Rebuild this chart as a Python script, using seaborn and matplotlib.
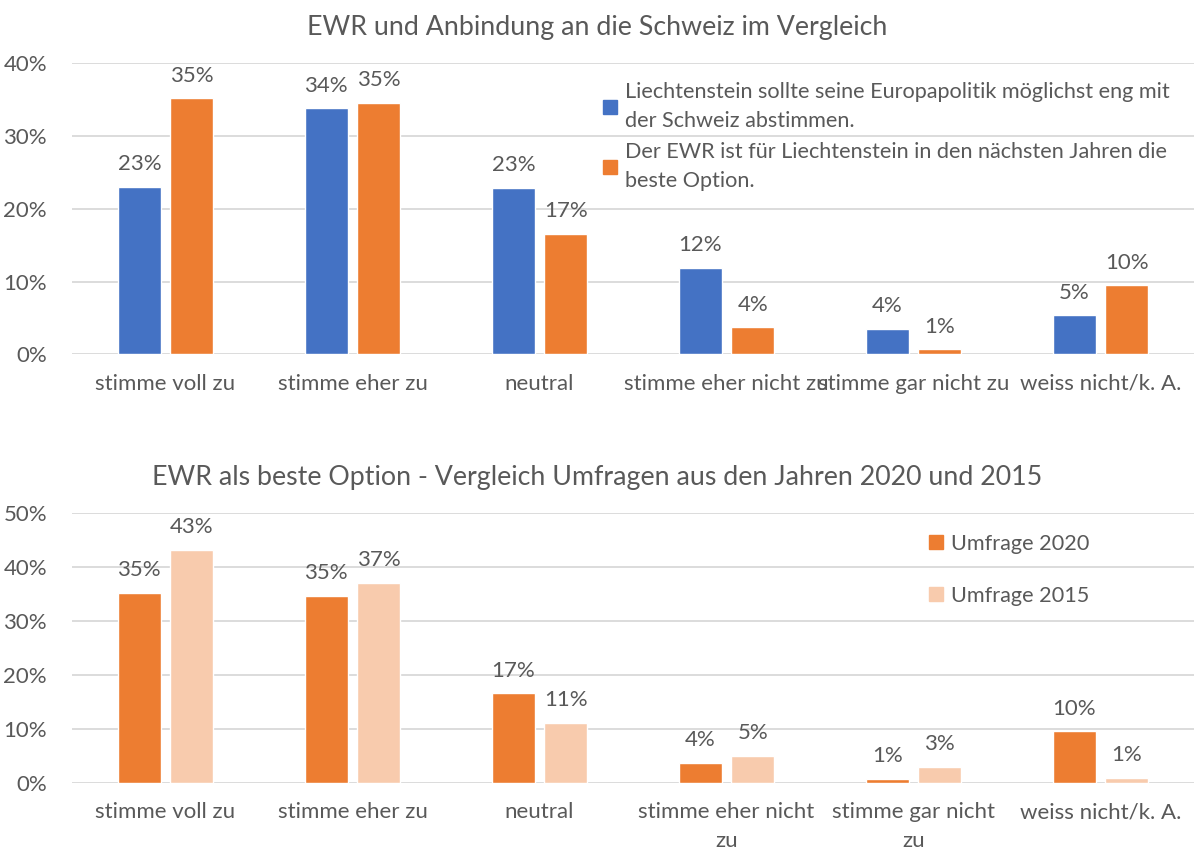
import pandas as pd
import numpy as np
import matplotlib.pyplot as plt
import seaborn as sns
from matplotlib.lines import Line2D

categories_top = ["stimme voll zu", "stimme eher zu", "neutral",
                  "stimme eher nicht zu", "stimme gar nicht zu", "weiss nicht/k. A."]
categories_bottom = ["stimme voll zu", "stimme eher zu", "neutral",
                     "stimme eher nicht\nzu", "stimme gar nicht\nzu", "weiss nicht/k. A."]

schweiz = [23.0, 33.8, 22.9, 11.9, 3.5, 5.4]
ewr_2020 = [35.2, 34.6, 16.6, 3.7, 0.7, 9.5]
ewr_2015 = [43.1, 37.0, 11.1, 5.0, 3.0, 0.9]

label_schweiz = "Liechtenstein sollte seine Europapolitik möglichst eng mit\nder Schweiz abstimmen."
label_ewr = "Der EWR ist für Liechtenstein in den nächsten Jahren die\nbeste Option."
label_2020 = "Umfrage 2020"
label_2015 = "Umfrage 2015"

BLUE = "#4472C4"
ORANGE = "#ED7D31"
PEACH = "#F8CBAD"
GREY = "#595959"

sns.set_theme(style="white")
plt.rcParams["font.family"] = ["Lato", "DejaVu Sans"]
plt.rcParams["text.color"] = GREY

df_top = pd.DataFrame({
    "cat": categories_top * 2,
    "val": schweiz + ewr_2020,
    "series": [label_schweiz] * 6 + [label_ewr] * 6,
})
df_bot = pd.DataFrame({
    "cat": categories_bottom * 2,
    "val": ewr_2020 + ewr_2015,
    "series": [label_2020] * 6 + [label_2015] * 6,
})

fig = plt.figure(figsize=(11.94, 8.51), dpi=100)
ax1 = fig.add_axes([72 / 1194, 1 - 354.3 / 851, (1194 - 72) / 1194, (354.3 - 63.3) / 851])
ax2 = fig.add_axes([72 / 1194, 1 - 782.7 / 851, (1194 - 72) / 1194, (782.7 - 512.7) / 851])


def style(ax, df, pal, ymax, cats, title, title_y):
    sns.barplot(data=df, x="cat", y="val", hue="series", palette=pal, ax=ax,
                width=0.56, gap=0.19, saturation=1, legend=False)
    ax.set_ylim(0, ymax)
    ax.set_xlim(-0.5, 5.5)
    ax.set_yticks(np.arange(0, ymax + 1, 10))
    ax.set_yticklabels([f"{int(t)}%" for t in np.arange(0, ymax + 1, 10)],
                       color=GREY, fontsize=16)
    ax.set_xticks(range(6))
    ax.set_xticklabels(cats, color=GREY, fontsize=16, linespacing=1.55)
    ax.tick_params(axis="x", length=0, pad=14)
    ax.tick_params(axis="y", length=0, pad=18)
    ax.set_xlabel("")
    ax.set_ylabel("")
    ax.grid(axis="y", color="#D9D9D9", linewidth=1.3)
    ax.set_axisbelow(True)
    for s in ax.spines.values():
        s.set_visible(False)
    for c in ax.containers:
        ax.bar_label(c, labels=[f"{v:.0f}%" for v in c.datavalues],
                     padding=9, color=GREY, fontsize=16)
    fig.text(0.5, title_y, title, ha="center", va="center", fontsize=19.3, color=GREY)


style(ax1, df_top, [BLUE, ORANGE], 40, categories_top,
      "EWR und Anbindung an die Schweiz im Vergleich", 1 - 27 / 851)
style(ax2, df_bot, [ORANGE, PEACH], 50, categories_bottom,
      "EWR als beste Option - Vergleich Umfragen aus den Jahren 2020 und 2015", 1 - 478 / 851)

h1 = [Line2D([], [], marker="s", color="none", markerfacecolor=c, markeredgecolor=c,
             markersize=10) for c in [BLUE, ORANGE]]
leg1 = ax1.legend(h1, [label_schweiz, label_ewr], loc="upper left",
                  bbox_to_anchor=(582 / 1194, 1 - 63 / 851), bbox_transform=fig.transFigure,
                  frameon=False, fontsize=15.6, handlelength=0.8, handletextpad=0.3,
                  labelspacing=0.5, labelcolor=GREY, alignment="left")
for t in leg1.get_texts():
    t.set_linespacing(1.55)

h2 = [Line2D([], [], marker="s", color="none", markerfacecolor=c, markeredgecolor=c,
             markersize=10) for c in [ORANGE, PEACH]]
ax2.legend(h2, [label_2020, label_2015], loc="upper left",
           bbox_to_anchor=(908 / 1194, 1 - 514 / 851), bbox_transform=fig.transFigure,
           frameon=False, fontsize=15.6, handlelength=0.8, handletextpad=0.3,
           labelspacing=1.5, labelcolor=GREY)

fig.savefig("out.png", dpi=100)
